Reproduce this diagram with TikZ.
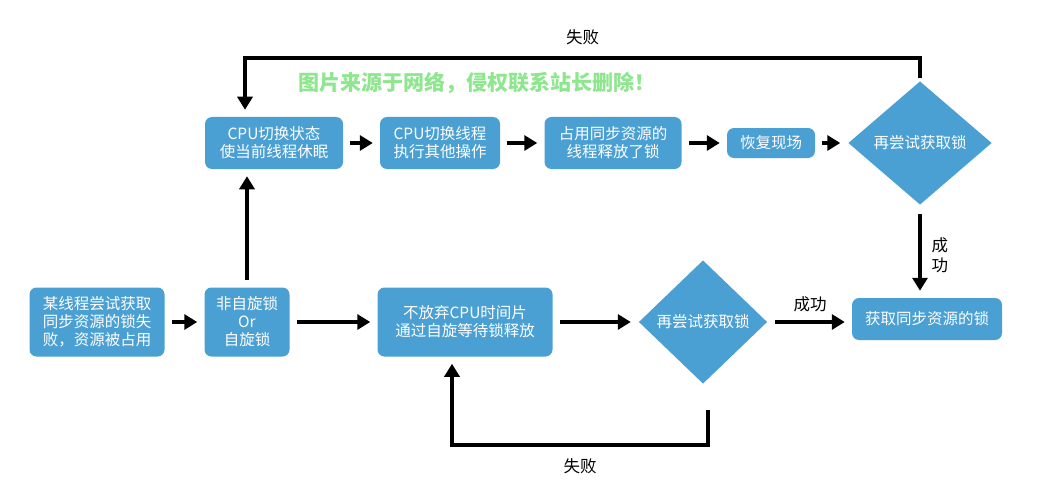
\documentclass[tikz,border=0pt]{standalone}
\usepackage{fontspec}
\setmainfont{Noto Sans CJK SC}
\usetikzlibrary{arrows.meta,shapes.geometric}
\definecolor{boxblue}{HTML}{4A9FD3}
\definecolor{mark}{HTML}{8EE68E}
\begin{document}
\begin{tikzpicture}[x=1pt,y=-1pt,>={Triangle[length=13pt,width=15pt]},line width=4.5pt,
                box/.style={rectangle,rounded corners=7pt,fill=boxblue,text=white,font=\fontsize{15.5}{18}\selectfont,align=center,inner sep=0pt},
                dia/.style={diamond,fill=boxblue,text=white,font=\fontsize{15.5}{18}\selectfont,inner sep=0pt,aspect=1.1},
                lbl/.style={font=\fontsize{16.5}{20}\selectfont,align=center},
                link/.style={->,shorten <=5pt,shorten >=5pt}]
                \useasboundingbox (0,0) rectangle (1051,500);
                % bottom row
                \node[box,minimum width=135pt,minimum height=69pt] (start) at (97,322) {某线程尝试获取\\同步资源的锁失\\败，资源被占用};
                \node[box,minimum width=85pt,minimum height=69pt] (kind) at (247,322) {非自旋锁\\Or\\自旋锁};
                \node[box,minimum width=175pt,minimum height=69pt] (spin) at (465,322) {不放弃CPU时间片\\通过自旋等待锁释放};
                \node[dia,minimum width=130pt,minimum height=125pt] (try2) at (703,322) {再尝试获取锁};
                \node[box,minimum width=150pt,minimum height=42pt] (got) at (927,319) {获取同步资源的锁};
                % top row
                \node[box,minimum width=138pt,minimum height=52pt] (sleep) at (274,143) {CPU切换状态\\使当前线程休眠};
                \node[box,minimum width=120pt,minimum height=52pt] (other) at (440,143) {CPU切换线程\\执行其他操作};
                \node[box,minimum width=137pt,minimum height=52pt] (free) at (613,143) {占用同步资源的\\线程释放了锁};
                \node[box,minimum width=88pt,minimum height=30pt] (back) at (771,143) {恢复现场};
                \node[dia,minimum width=145pt,minimum height=125pt] (try1) at (920,143) {再尝试获取锁};
                \node[font=\fontsize{21}{24}\selectfont\bfseries,text=mark] (wm) at (477,83) {图片来源于网络，侵权联系站长删除！};
                % corner points of the loops
                \coordinate (t1) at (920,58);
                \coordinate (t2) at (245,58);
                \coordinate (s1) at (920,214);
                \coordinate (b1) at (708,410);
                \coordinate (b2) at (708,445);
                \coordinate (b3) at (452,445);

                \draw[link] (start) -- (kind);
                \draw[link] (kind) -- (spin);
                \draw[link] (spin) -- (try2);
                \draw[link] (try2.east) -- node[lbl,above=4pt] {成功} (got.west|-try2.east);
                \draw[link] (kind) -- (kind|-sleep.south);
                \draw[link] (sleep) -- (other);
                \draw[link] (other) -- (free);
                \draw[link] (free) -- (back);
                \draw[link] (back) -- (try1);
                \draw[link,shorten <=0pt] (s1) -- node[lbl,right=6pt] {成\\功} (s1|-got.north);
                \draw[link,shorten <=0pt] (try1.north) -- (t1) -- node[lbl,above=8pt] {失败} (t2) -- (t2|-sleep.north);
                \draw[link,shorten <=0pt] (b1) -- (b2) -- node[lbl,below=8pt] {失败} (b3) -- (b3|-spin.south);
\end{tikzpicture}
\end{document}
